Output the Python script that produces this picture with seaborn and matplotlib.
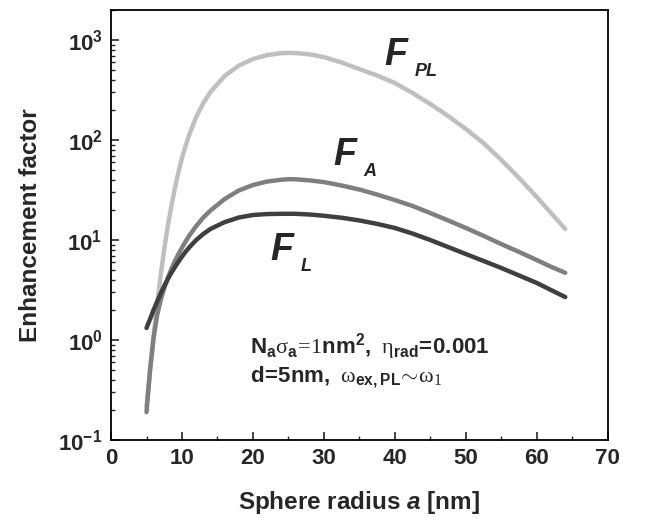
import numpy as np
import pandas as pd
import matplotlib
matplotlib.use("Agg")
import matplotlib.pyplot as plt
import seaborn as sns
from matplotlib.ticker import FixedLocator, LogLocator, NullFormatter, FuncFormatter, MultipleLocator

radius = [5, 5.5, 6, 6.5, 7, 7.5, 8, 8.5, 9, 9.5, 10, 10.5, 11, 12, 13, 14, 16, 18, 20, 22, 24, 25, 26,
          28, 30, 32.5, 35, 37.5, 40, 42.5, 45, 47.5, 50, 52.5, 55, 57.5, 60, 62, 64]
F_PL = [0.219, 0.501, 1.10, 2.29, 4.47, 8.13, 13.8, 21.9, 33.1, 47.9, 66.1, 87.1, 112, 170, 234, 302, 437,
        556, 646, 708, 740, 745, 741, 720, 676, 596, 513, 442, 372, 295, 229, 174, 129, 93, 63.1, 41.7, 26.9,
        18.6, 12.9]
F_A = [0.19, 0.50, 1.05, 1.78, 2.51, 3.31, 4.17, 5.13, 6.17, 7.24, 8.41, 9.66, 11.0, 13.8, 16.8, 19.7, 25.7,
       31.3, 35.5, 38.5, 40.1, 40.6, 40.5, 39.5, 38.0, 35.1, 32.0, 28.5, 25.1, 21.9, 18.6, 15.7, 13.2, 11.0,
       9.1, 7.6, 6.3, 5.4, 4.7]
F_L = [1.32, 1.62, 2.0, 2.43, 2.92, 3.47, 4.07, 4.70, 5.37, 6.08, 6.84, 7.62, 8.41, 10.0, 11.5, 12.9, 15.1,
       16.8, 17.8, 18.2, 18.3, 18.3, 18.3, 18.0, 17.5, 16.7, 15.7, 14.5, 13.2, 11.6, 10.0, 8.51, 7.24, 6.17,
       5.25, 4.42, 3.72, 3.16, 2.69]

series_names = ["F_PL", "F_A", "F_L"]
colors = {"F_PL": "#bfbfbf", "F_A": "#7f7f7f", "F_L": "#3f3f3f"}

df = pd.DataFrame({
    "radius": radius * 3,
    "value": F_PL + F_A + F_L,
    "series": [s for s in series_names for _ in radius],
})

sns.set_style("white")
plt.rcParams["font.family"] = ["Liberation Sans", "DejaVu Sans"]
plt.rcParams["mathtext.fontset"] = "custom"
plt.rcParams["mathtext.rm"] = "Liberation Serif"
plt.rcParams["mathtext.bf"] = "Liberation Sans:bold"
plt.rcParams["mathtext.it"] = "Liberation Sans:italic:bold"
plt.rcParams["mathtext.sf"] = "Liberation Sans:bold"

fig = plt.figure(figsize=(6.55, 5.18), dpi=100)
ax = fig.add_axes([0.1695, 0.1506, 0.928 - 0.1695, 0.9807 - 0.1506])

sns.lineplot(data=df, x="radius", y="value", hue="series", palette=colors,
             linewidth=3.2, legend=False, ax=ax, sort=True)
for line in ax.lines:
    line.set_solid_capstyle("round")
    line.set_solid_joinstyle("round")

ax.set_yscale("log")
ax.set_xlim(0, 70)
ax.set_ylim(0.1, 2000)

ax.xaxis.set_major_locator(MultipleLocator(10))
ax.xaxis.set_minor_locator(MultipleLocator(5))
ax.yaxis.set_major_locator(FixedLocator([0.1, 1, 10, 100, 1000]))
ax.yaxis.set_minor_locator(LogLocator(base=10, subs=np.arange(2, 10)))
ax.yaxis.set_minor_formatter(NullFormatter())
ax.yaxis.set_major_formatter(FuncFormatter(lambda v, p: r"$\mathbf{10^{%d}}$" % int(round(np.log10(v)))))
ax.xaxis.set_major_formatter(FuncFormatter(lambda v, p: "%d" % v))

ax.tick_params(axis="both", which="major", direction="in", length=6, width=1.2,
               labelsize=16, pad=6, top=False, right=False, bottom=True, left=True)
ax.tick_params(axis="both", which="minor", direction="in", length=3, width=1.0,
               top=False, right=False, bottom=True, left=True)
for lab in ax.get_xticklabels():
    lab.set_fontweight("bold")
for s in ax.spines.values():
    s.set_linewidth(1.3)
    s.set_color("black")

ax.set_xlabel(r"Sphere radius $\mathit{a}$ [nm]", fontsize=17.5, fontweight="bold", labelpad=14)
ax.set_ylabel("Enhancement factor", fontsize=17.5, fontweight="bold", labelpad=12)

def flabel(x, y, sub):
    ax.text(x, y, "F", fontsize=27, fontweight="bold", fontstyle="italic",
            ha="left", va="baseline")
    ax.annotate(sub, xy=(x, y), xytext=(22, -8), textcoords="offset points",
                fontsize=13, fontweight="bold", fontstyle="italic",
                ha="left", va="baseline")

flabel(38.5, 560, "PL")
flabel(31.3, 56, "A")
flabel(22.4, 6.3, "L")

ax.text(19.6, 0.74,
        r"$\mathbf{N_a}\mathrm{\sigma}_\mathbf{a}\!\mathrm{=}\!\mathrm{1}\mathbf{nm^2,}\ \mathrm{\eta}_\mathbf{rad}\!\mathbf{=}\!\mathbf{0.001}$",
        fontsize=16, ha="left", va="baseline")
ax.text(19.6, 0.38,
        r"$\mathbf{d}\!\mathbf{=}\!\mathbf{5nm,}\ \mathrm{\omega}_\mathbf{ex,PL}\!\mathbf{\sim}\!\mathrm{\omega}_\mathrm{1}$",
        fontsize=16, ha="left", va="baseline")

fig.savefig("out.png", dpi=100)
